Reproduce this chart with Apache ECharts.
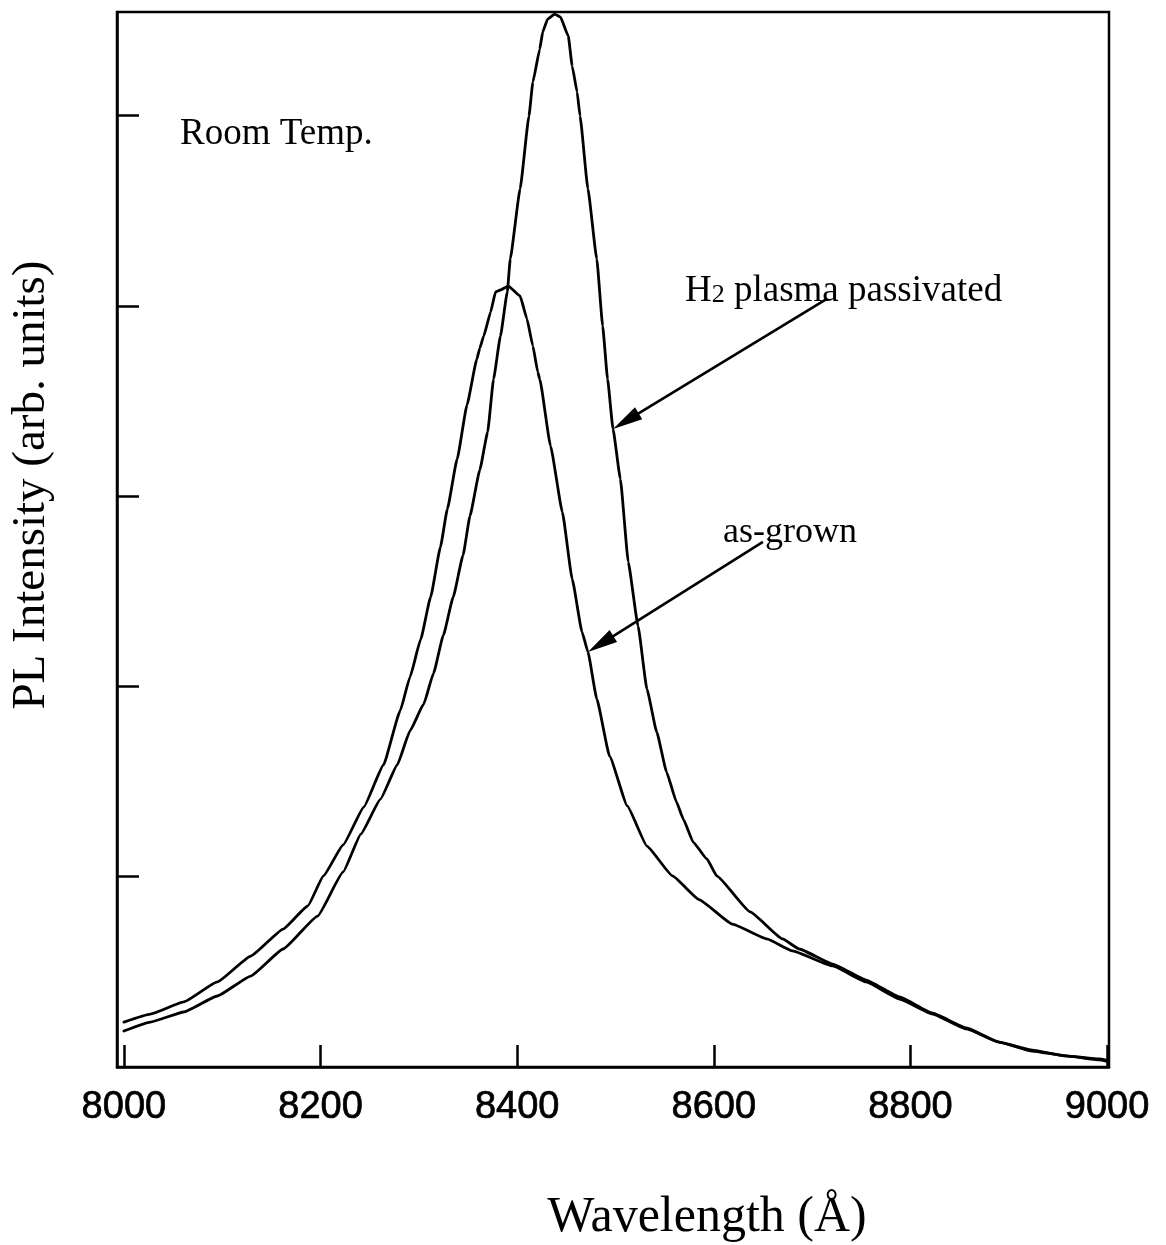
<!DOCTYPE html>
<html>
<head>
<meta charset="utf-8">
<title>PL spectra</title>
<script src="https://cdn.jsdelivr.net/npm/echarts@6/dist/echarts.min.js"></script>
<style>
  html, body { margin: 0; padding: 0; background: #fff; }
  #chart { width: 1166px; height: 1245px; }
</style>
</head>
<body>
<div id="chart"></div>
<script>
// Photoluminescence spectra at room temperature (intensity in arbitrary units)
const xTickValues = [8000, 8200, 8400, 8600, 8800, 9000];
const yTickValues = [1, 2, 3, 4, 5];

const asGrownWavelength = [
  8000, 8027, 8061, 8095, 8129, 8162, 8187, 8203, 8223, 8244,
  8264, 8281, 8291, 8302, 8312, 8322, 8329, 8339, 8349, 8359,
  8362, 8366, 8373, 8378, 8383, 8391, 8403, 8410, 8416, 8421,
  8423, 8434, 8446, 8456, 8466, 8472, 8481, 8494, 8512, 8532,
  8558, 8585, 8619, 8654, 8680, 8721, 8755, 8789, 8822, 8857,
  8890, 8924, 8958, 8992, 9000
];
const asGrownIntensity = [
  0.236, 0.278, 0.342, 0.447, 0.583, 0.725, 0.846, 1.004, 1.167, 1.366,
  1.587, 1.871, 2.049, 2.249, 2.470, 2.733, 2.932, 3.195, 3.479, 3.720,
  3.778, 3.841, 3.967, 4.073, 4.083, 4.104, 4.052, 3.931, 3.789, 3.652,
  3.615, 3.263, 2.916, 2.564, 2.286, 2.181, 1.934, 1.634, 1.372, 1.161,
  1.004, 0.880, 0.751, 0.673, 0.610, 0.531, 0.447, 0.357, 0.279, 0.200,
  0.131, 0.084, 0.058, 0.042, 0.035
];

const passivatedWavelength = [
  8000, 8027, 8061, 8095, 8129, 8162, 8197, 8223, 8241, 8261,
  8278, 8291, 8305, 8315, 8325, 8335, 8345, 8352, 8362, 8370,
  8376, 8383, 8390, 8393, 8403, 8412, 8416, 8423, 8426, 8431,
  8438, 8444, 8452, 8456, 8461, 8464, 8472, 8481, 8487, 8492,
  8497.5, 8505, 8513, 8523, 8532, 8542, 8552, 8562, 8569, 8579,
  8593, 8603, 8637, 8670, 8687, 8721, 8755, 8789, 8822, 8857,
  8890, 8924, 8958, 8992, 9000
];
const passivatedIntensity = [
  0.189, 0.236, 0.289, 0.373, 0.478, 0.620, 0.793, 1.025, 1.224, 1.408,
  1.587, 1.766, 1.908, 2.070, 2.270, 2.470, 2.690, 2.895, 3.137, 3.337,
  3.615, 3.841, 4.073, 4.246, 4.614, 4.997, 5.176, 5.349, 5.439, 5.507,
  5.533, 5.518, 5.418, 5.260, 5.123, 4.997, 4.614, 4.246, 3.894, 3.615,
  3.353, 3.090, 2.654, 2.317, 1.986, 1.760, 1.550, 1.393, 1.303, 1.182,
  1.093, 1.004, 0.815, 0.673, 0.620, 0.541, 0.457, 0.368, 0.284, 0.205,
  0.131, 0.089, 0.058, 0.037, 0.030
];

// Callout arrows: [wavelength, intensity] of the tail and of the tip on the curve
const passivatedArrowTail = [8715, 4.036];
const passivatedArrowTip = [8497.5, 3.353];
const asGrownArrowTail = [8650, 2.759];
const asGrownArrowTip = [8472, 2.181];

const serif = "'Liberation Serif', 'Times New Roman', Times, serif";
const sans = "'Liberation Sans', Arial, Helvetica, sans-serif";

const pairs = (xs, ys) => xs.map((x, i) => [x, ys[i]]);

const chart = echarts.init(document.getElementById('chart'), null, { renderer: 'canvas' });

const axisLineStyle = { color: '#000', width: 2.5 };

const curveSeries = (name, xs, ys) => ({
  name,
  type: 'line',
  data: pairs(xs, ys),
  showSymbol: false,
  smooth: 0.12,
  smoothMonotone: 'x',
  lineStyle: { color: '#000', width: 2.8, join: 'round', cap: 'round' },
  itemStyle: { color: '#000' },
  silent: true,
  z: 3
});

chart.setOption({
  animation: false,
  backgroundColor: '#fff',
  grid: {
    left: 117, right: 57, top: 12, bottom: 178,
    show: true, borderColor: '#000', borderWidth: 2.5, backgroundColor: 'transparent'
  },
  xAxis: {
    type: 'value',
    min: 7993,
    max: 9002,
    axisLine: { show: true, lineStyle: axisLineStyle },
    axisTick: { show: true, inside: true, length: 22, lineStyle: axisLineStyle, customValues: xTickValues },
    axisLabel: {
      customValues: xTickValues,
      formatter: v => String(v),
      color: '#000', fontFamily: sans, fontSize: 38, margin: 22,
      textBorderColor: '#000', textBorderWidth: 0.7
    },
    splitLine: { show: false }
  },
  yAxis: {
    type: 'value',
    min: 0,
    max: 5.544,
    axisLine: { show: true, lineStyle: axisLineStyle },
    axisTick: { show: true, inside: true, length: 22, lineStyle: axisLineStyle, customValues: yTickValues },
    axisLabel: { show: false },
    splitLine: { show: false }
  },
  series: [
    curveSeries('as-grown', asGrownWavelength, asGrownIntensity),
    curveSeries('H2 plasma passivated', passivatedWavelength, passivatedIntensity)
  ]
});

// Arrow from tail to tip, drawn in pixel space from data coordinates
function arrow(tail, tip) {
  const p0 = chart.convertToPixel({ gridIndex: 0 }, tail);
  const p1 = chart.convertToPixel({ gridIndex: 0 }, tip);
  const dx = p1[0] - p0[0], dy = p1[1] - p0[1];
  const len = Math.hypot(dx, dy);
  const ux = dx / len, uy = dy / len;
  const headLen = 30, headHalf = 7;
  const bx = p1[0] - ux * headLen, by = p1[1] - uy * headLen;
  return [
    { type: 'line', z: 10, shape: { x1: p0[0], y1: p0[1], x2: bx + ux * 2, y2: by + uy * 2 },
      style: { stroke: '#000', lineWidth: 2.6 } },
    { type: 'polygon', z: 10,
      shape: { points: [[p1[0], p1[1]], [bx - uy * headHalf, by + ux * headHalf], [bx + uy * headHalf, by - ux * headHalf]] },
      style: { fill: '#000' } }
  ];
}

chart.setOption({
  graphic: [
    { type: 'text', x: 180, y: 153, z: 10,
      style: { text: 'Room Temp.', font: `37px ${serif}`, fill: '#000', align: 'left', verticalAlign: 'bottom' } },
    { type: 'text', x: 685, y: 310, z: 10,
      style: {
        text: '{a|H}{b|2}{a| plasma passivated}',
        fill: '#000', align: 'left', verticalAlign: 'bottom',
        rich: {
          a: { fontFamily: serif, fontSize: 37, verticalAlign: 'bottom', lineHeight: 42 },
          b: { fontFamily: serif, fontSize: 26, verticalAlign: 'bottom', lineHeight: 42, padding: [0, 0, 2, 0] }
        }
      } },
    { type: 'text', x: 723, y: 551, z: 10,
      style: { text: 'as-grown', font: `36px ${serif}`, fill: '#000', align: 'left', verticalAlign: 'bottom' } },
    { type: 'text', x: 707, y: 1243, z: 10,
      style: { text: 'Wavelength (Å)', font: `50px ${serif}`, fill: '#000', align: 'center', verticalAlign: 'bottom' } },
    { type: 'text', x: 32, y: 485, rotation: Math.PI / 2, z: 10,
      style: { text: 'PL Intensity (arb. units)', font: `47px ${serif}`, fill: '#000', align: 'center', verticalAlign: 'middle' } },
    ...arrow(passivatedArrowTail, passivatedArrowTip),
    ...arrow(asGrownArrowTail, asGrownArrowTip)
  ]
});
</script>
</body>
</html>
